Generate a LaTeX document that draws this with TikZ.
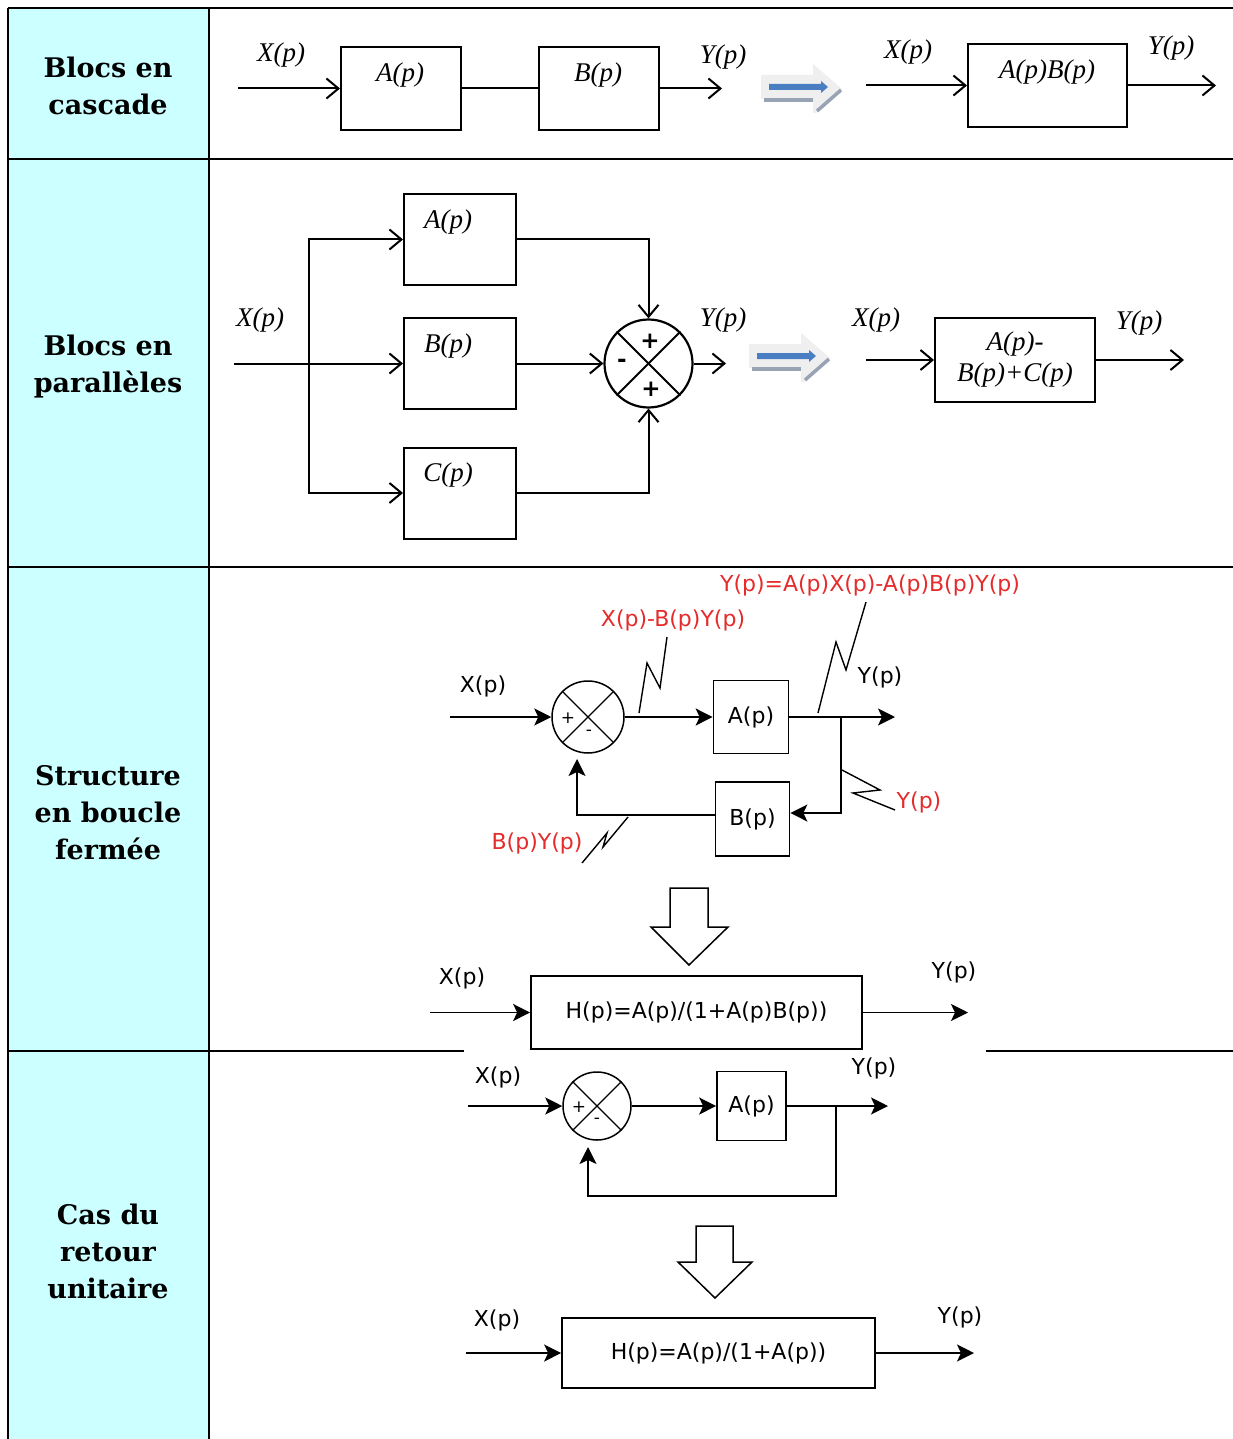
\documentclass[tikz,border=0pt]{standalone}
\usepackage{fontspec}
\setmainfont{DejaVu Sans}
\newfontfamily\hdrfont{DejaVu Serif}
\newfontfamily\itfont{Liberation Serif}
\usetikzlibrary{arrows.meta}
\definecolor{cellcyan}{HTML}{CCFFFF}
\definecolor{annred}{HTML}{E52B2B}
\definecolor{implblue}{HTML}{4A7EC2}
\definecolor{implgray}{HTML}{EFEFEF}
\definecolor{implshadow}{HTML}{98A3B4}
\newcommand\implarrow{%
  \fill[implgray] (0,-12) -- (52,-12) -- (52,-23) -- (81,2) -- (55,26) -- (52,26) -- (52,12) -- (0,12) -- cycle;
  \fill[implshadow] (3,11) rectangle (52,15);
  \draw[implshadow,line width=3.5pt] (56,24) -- (80,3);
  \fill[implblue] (8,-3) -- (60,-3) -- (60,-6) -- (67,0) -- (60,6) -- (60,3) -- (8,3) -- cycle;
}
\begin{document}
\begin{tikzpicture}[x=1pt,y=-1pt,
  tline/.style={line width=2.2pt},
  blk/.style={draw,line width=2pt,inner sep=0pt},
  sblk/.style={draw,line width=1.7pt,inner sep=0pt,font=\fontsize{22}{26}\selectfont},
  ilab/.style={font=\itfont\itshape\fontsize{27}{31}\selectfont,inner sep=0pt},
  slab/.style={font=\fontsize{22}{26}\selectfont,inner sep=0pt},
  rlab/.style={slab,text=annred},
  hdr/.style={font=\hdrfont\bfseries\fontsize{27}{37}\selectfont,align=center,inner sep=0pt},
  bsgn/.style={font=\bfseries\fontsize{23}{25}\selectfont,inner sep=0pt},
  ssgn/.style={font=\fontsize{17}{19}\selectfont,inner sep=0pt},
  oarr/.style={line width=2pt,-{Straight Barb[length=12pt,width=20pt]}},
  oline/.style={line width=2pt},
  farr/.style={line width=1.8pt,-{Stealth[length=17pt,width=17pt,inset=4pt]}},
  zz/.style={line width=1.4pt},
  hollow/.style={draw,line width=1.5pt,fill=white,line join=miter}]

\useasboundingbox (0,0) rectangle (1233,1439);
\fill[white] (0,0) rectangle (1233,1439);
\fill[cellcyan] (8,8) rectangle (209,1439);

% table lines
\draw[tline] (8,8) -- (1233,8);
\draw[tline] (8,159) -- (1233,159);
\draw[tline] (8,567) -- (1233,567);
\draw[tline] (8,1051) -- (464,1051);
\draw[tline] (986,1051) -- (1233,1051);
\draw[tline] (8,8) -- (8,1439);
\draw[tline] (209,8) -- (209,1439);

% headers
\node[hdr] (h1) at (108,86) {Blocs en\\cascade};
\node[hdr] (h2) at (108,367) {Blocs en\\parallèles};
\node[hdr] (h3) at (108,813) {Structure\\en boucle\\fermée};
\node[hdr] (h4) at (108,1251) {Cas du\\retour\\unitaire};

% ---------- row 1 : cascade
\node[ilab] (aX) at (281,55) {X(p)};
\coordinate (ain) at (238,88.5);
\node[blk,minimum width=120pt,minimum height=83pt] (aA) at (401,88.5) {};
\node[blk,minimum width=120pt,minimum height=83pt] (aB) at (599,88.5) {};
\node[ilab] (aAl) at (400,75) {A(p)};
\node[ilab] (aBl) at (598,75) {B(p)};
\coordinate (aout) at (722,88.5);
\node[ilab] (aY) at (723,57) {Y(p)};
\draw[oarr] (ain) -- (aA);
\draw[oline] (aA) -- (aB);
\draw[oarr] (aB) -- (aout);
\begin{scope}[shift={(761,87)}]\implarrow\end{scope}
\node[ilab] (aX2) at (908,52) {X(p)};
\coordinate (ain2) at (866,85.5);
\node[blk,minimum width=159pt,minimum height=83pt] (aAB) at (1047.5,85.5) {};
\node[ilab] (aABl) at (1047,72) {A(p)B(p)};
\coordinate (aout2) at (1216,85.5);
\node[ilab] (aY2) at (1171,48) {Y(p)};
\draw[oarr] (ain2) -- (aAB);
\draw[oarr] (aAB) -- (aout2);

% ---------- row 2 : parallel
\node[ilab] (pX) at (260,320) {X(p)};
\coordinate (pin) at (234,363.5);
\coordinate (pbr) at (309,363.5);
\node[blk,minimum width=112pt,minimum height=91pt] (pA) at (460,239.5) {};
\node[blk,minimum width=112pt,minimum height=91pt] (pB) at (460,363.5) {};
\node[blk,minimum width=112pt,minimum height=91pt] (pC) at (460,493) {};
\node[ilab] (pAl) at (448,222) {A(p)};
\node[ilab] (pBl) at (448,346) {B(p)};
\node[ilab] (pCl) at (448,475) {C(p)};
\node[draw,circle,line width=2.2pt,minimum size=88pt,inner sep=0pt] (pS) at (648.5,363.5) {};
\draw[line width=2pt] (pS.north west) -- (pS.south east);
\draw[line width=2pt] (pS.north east) -- (pS.south west);
\node[bsgn] (pp1) at (650,341) {+};
\node[bsgn] (pp2) at (651,389) {+};
\node[bsgn] (pm) at (622,363) {-};
\draw[oarr] (pin) -- (pB);
\draw[oarr] (pbr) |- (pA);
\draw[oarr] (pbr) |- (pC);
\draw[oarr] (pA) -| (pS);
\draw[oarr] (pC) -| (pS);
\draw[oarr] (pB) -- (pS);
\coordinate (pout) at (726,363.5);
\draw[oarr] (pS) -- (pout);
\node[ilab] (pY) at (723,320) {Y(p)};
\begin{scope}[shift={(749,356)}]\implarrow\end{scope}
\node[ilab] (pX2) at (876,320) {X(p)};
\coordinate (pin2) at (866,360);
\node[blk,minimum width=160pt,minimum height=84pt,align=center,font=\itfont\itshape\fontsize{27}{31}\selectfont] (pR) at (1015,360) {A(p)-\\B(p)+C(p)};
\coordinate (pout2) at (1184,360);
\node[ilab] (pY2) at (1139,323) {Y(p)};
\draw[oarr] (pin2) -- (pR);
\draw[oarr] (pR) -- (pout2);

% ---------- row 3 : closed loop
\node[slab] (cX) at (483,686) {X(p)};
\coordinate (cin) at (450,717);
\node[draw,circle,line width=1.5pt,minimum size=72pt,inner sep=0pt] (cS) at (588,717) {};
\draw[line width=1.1pt] (cS.north west) -- (cS.south east);
\draw[line width=1.1pt] (cS.north east) -- (cS.south west);
\node[ssgn] (cp) at (568,718) {+};
\node[ssgn] (cm) at (589,733) {-};
\node[sblk,minimum width=75pt,minimum height=73pt] (cA) at (751,717) {A(p)};
\node[sblk,minimum width=74pt,minimum height=74pt] (cB) at (752.5,819) {B(p)};
\draw[farr] (cin) -- (cS);
\draw[farr] (cS) -- (cA);
\coordinate (cout) at (895,717);
\draw[farr] (cA) -- (cout);
\coordinate (cbr) at (841,717);
\coordinate (cbr2) at (841,813);
\draw[farr] (cbr) -- (cbr2) -- (cB.east |- cbr2);
\coordinate (cfb1) at (577,815);
\coordinate (cfbt) at (577,759);
\draw[farr] (cB.west |- cfb1) -- (cfb1) -- (cfbt);
\node[slab] (cY) at (880,677) {Y(p)};
% annotations
\node[rlab] (r1) at (870,585) {Y(p)=A(p)X(p)-A(p)B(p)Y(p)};
\node[rlab] (r2) at (673,620) {X(p)-B(p)Y(p)};
\node[rlab] (r3) at (919,802) {Y(p)};
\node[rlab] (r4) at (537,843) {B(p)Y(p)};
\draw[zz] (639,713) -- (647,663) -- (660,688) -- (667,637);
\draw[zz] (818,713) -- (836,642) -- (846,670) -- (866,602);
\draw[zz] (842,770) -- (880,790) -- (853,793) -- (895,810);
\draw[zz] (628,817) -- (603,847) -- (607,833) -- (582,863);
% reduction
\draw[hollow] (670,888) -- (708,888) -- (708,927) -- (728,927) -- (689,965) -- (651,927) -- (670,927) -- cycle;
\node[slab] (hX) at (462,978) {X(p)};
\coordinate (hin) at (430,1012.5);
\node[sblk,minimum width=331pt,minimum height=73pt] (cH) at (696.5,1012.5) {H(p)=A(p)/(1+A(p)B(p))};
\coordinate (hout) at (968,1012.5);
\node[slab] (hY) at (954,972) {Y(p)};
\draw[farr] (hin) -- (cH);
\draw[farr] (cH) -- (hout);

% ---------- row 4 : unity feedback
\node[slab] (uX) at (498,1077) {X(p)};
\coordinate (uin) at (468,1106);
\node[draw,circle,line width=1.5pt,minimum size=68pt,inner sep=0pt] (uS) at (597,1106) {};
\draw[line width=1.1pt] (uS.north west) -- (uS.south east);
\draw[line width=1.1pt] (uS.north east) -- (uS.south west);
\node[ssgn] (up) at (579,1107) {+};
\node[ssgn] (um) at (597,1121) {-};
\node[sblk,minimum width=69pt,minimum height=69pt] (uA) at (751.5,1106) {A(p)};
\draw[farr] (uin) -- (uS);
\draw[farr] (uS) -- (uA);
\coordinate (uout) at (888,1106);
\draw[farr] (uA) -- (uout);
\coordinate (ubr) at (836,1106);
\coordinate (ufb1) at (836,1196);
\coordinate (ufb2) at (588,1196);
\coordinate (ufbt) at (588,1147);
\draw[farr] (ubr) -- (ufb1) -- (ufb2) -- (ufbt);
\node[slab] (uY) at (874,1068) {Y(p)};
\draw[hollow] (696,1226) -- (733,1226) -- (733,1262) -- (752,1262) -- (715,1298) -- (678,1262) -- (696,1262) -- cycle;
\node[slab] (uX2) at (497,1320) {X(p)};
\coordinate (uin2) at (466,1353);
\node[sblk,minimum width=313pt,minimum height=70pt] (uH) at (718.5,1353) {H(p)=A(p)/(1+A(p))};
\coordinate (uout2) at (974,1353);
\node[slab] (uY2) at (960,1317) {Y(p)};
\draw[farr] (uin2) -- (uH);
\draw[farr] (uH) -- (uout2);
\end{tikzpicture}
\end{document}
